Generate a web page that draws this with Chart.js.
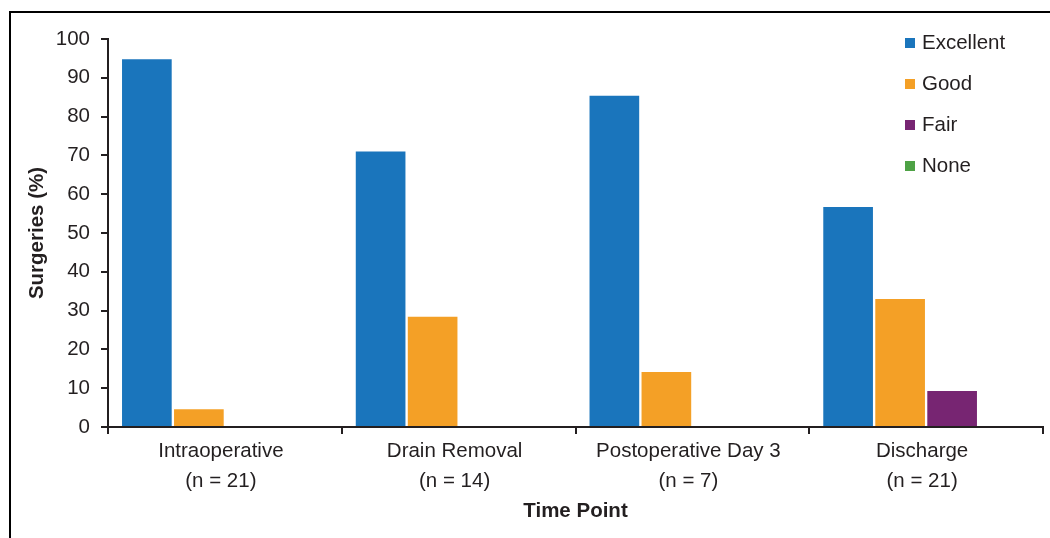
<!DOCTYPE html>
<html lang="en">
<head>
    <meta charset="UTF-8">
    <title>Surgeries by Time Point</title>
    <script src="https://cdn.jsdelivr.net/npm/chart.js"></script>
    <style>
        body {
            margin: 0;
            padding: 0;
            background: #ffffff;
        }
        #wrap {
            width: 1050px;
            height: 538px;
        }
    </style>
</head>
<body>
    <div id="wrap"><canvas id="surgeryChart"></canvas></div>
    <script>
        // Dati
        const timePoints = [
            ["Intraoperative", "(n = 21)"],
            ["Drain Removal", "(n = 14)"],
            ["Postoperative Day 3", "(n = 7)"],
            ["Discharge", "(n = 21)"]
        ];
        const ratingNames = ["Excellent", "Good", "Fair", "None"];
        const excellentPct = [94.8, 71.0, 85.4, 56.7];
        const goodPct = [4.6, 28.4, 14.2, 33.0];
        const fairPct = [0, 0, 0, 9.3];
        const nonePct = [0, 0, 0, 0];
        const ratingColors = ["#1a75bc", "#f4a026", "#772572", "#4ea245"];

        const ink = "#231f20";
        const fontFamily = "'Liberation Sans', Arial, sans-serif";
        const fontSize = 20.5;

        // Legenda verticale in alto a destra, dentro l'area del grafico
        const sideLegend = {
            id: "sideLegend",
            afterDraw(chart) {
                const ctx = chart.ctx;
                const x = chart.chartArea.right - 138;
                ctx.save();
                ctx.font = fontSize + "px " + fontFamily;
                ctx.textBaseline = "middle";
                chart.data.datasets.forEach((ds, i) => {
                    const y = 43 + i * 41;
                    ctx.fillStyle = ds.backgroundColor;
                    ctx.fillRect(x, y - 5, 10, 10);
                    ctx.fillStyle = ink;
                    ctx.fillText(ds.label, x + 17, y);
                });
                ctx.restore();
            }
        };

        // Cornice (solo lati superiore e sinistro visibili)
        const frame = {
            id: "frame",
            beforeDraw(chart) {
                const ctx = chart.ctx;
                ctx.save();
                ctx.strokeStyle = "#000";
                ctx.lineWidth = 2;
                ctx.beginPath();
                ctx.moveTo(10, chart.height + 5);
                ctx.lineTo(10, 12);
                ctx.lineTo(chart.width + 5, 12);
                ctx.stroke();
                ctx.restore();
            }
        };

        const seriesValues = [excellentPct, goodPct, fairPct, nonePct];

        new Chart(document.getElementById("surgeryChart"), {
            type: "bar",
            data: {
                labels: timePoints,
                datasets: ratingNames.map((name, i) => ({
                    label: name,
                    data: seriesValues[i],
                    backgroundColor: ratingColors[i],
                    borderWidth: 0,
                    categoryPercentage: 0.89,
                    barPercentage: 0.955
                }))
            },
            options: {
                responsive: true,
                maintainAspectRatio: false,
                animation: false,
                layout: {
                    padding: { left: 0, right: 7, top: 39, bottom: 0 }
                },
                plugins: {
                    legend: { display: false },
                    tooltip: { enabled: false }
                },
                scales: {
                    x: {
                        grid: {
                            drawOnChartArea: false,
                            drawTicks: true,
                            tickLength: 7,
                            color: ink,
                            lineWidth: 2
                        },
                        border: { color: ink, width: 2 },
                        ticks: {
                            color: ink,
                            padding: 2,
                            labelOffset: -4,
                            maxRotation: 0,
                            font: { family: fontFamily, size: fontSize, lineHeight: "30px" }
                        },
                        title: {
                            display: true,
                            text: "Time Point",
                            color: ink,
                            padding: { top: 0, bottom: 14 },
                            font: { family: fontFamily, size: fontSize, weight: "bold" }
                        },
                        afterFit(scale) {
                            scale.height = 111;
                        }
                    },
                    y: {
                        min: 0,
                        max: 100,
                        grid: {
                            drawOnChartArea: false,
                            drawTicks: true,
                            tickLength: 7,
                            color: ink,
                            lineWidth: 2
                        },
                        border: { color: ink, width: 2 },
                        ticks: {
                            stepSize: 10,
                            color: ink,
                            padding: 11,
                            font: { family: fontFamily, size: fontSize }
                        },
                        title: {
                            display: true,
                            text: "Surgeries (%)",
                            color: ink,
                            padding: { top: 25, bottom: 0 },
                            font: { family: fontFamily, size: fontSize, weight: "bold" }
                        },
                        afterFit(scale) {
                            scale.width = 108;
                        }
                    }
                }
            },
            plugins: [frame, sideLegend]
        });
    </script>
</body>
</html>
